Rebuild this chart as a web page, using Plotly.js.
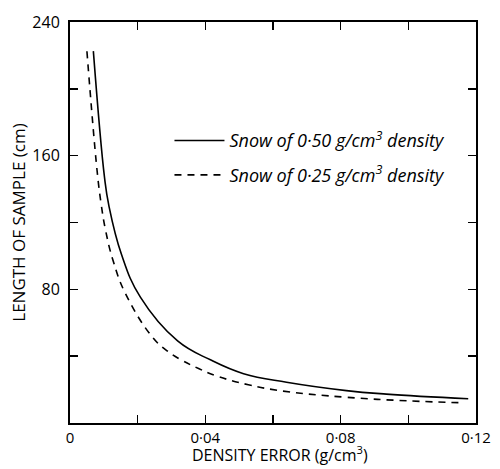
<!DOCTYPE html>
<html>
<head>
<meta charset="utf-8">
<script src="https://cdn.plot.ly/plotly-3.0.1.min.js"></script>
<style>html,body{margin:0;padding:0;background:#fff}#chart{width:500px;height:469px}</style>
</head>
<body>
<div id="chart"></div>
<script>
// Density error (g/cm3) and sample length (cm)
const solidDensityError = [0.0069, 0.0102, 0.0115, 0.0152, 0.0208, 0.0318, 0.0415, 0.0513, 0.0640, 0.0817, 0.0935, 0.1177];
const solidLength       = [222.6, 147.0, 130.0, 101.0, 75.3, 49.1, 37.8, 29.5, 24.4, 19.4, 17.3, 14.5];
const dashedDensityError = [0.0050, 0.0080, 0.0092, 0.0105, 0.0127, 0.0164, 0.0244, 0.0287, 0.0331, 0.0380, 0.0428, 0.0527, 0.0630, 0.0817, 0.0995, 0.1162];
const dashedLength       = [222.5, 151.1, 131.2, 115.5, 97.4, 77.4, 51.3, 43.2, 37.5, 32.6, 28.5, 22.9, 19.1, 15.4, 13.3, 12.1];
const seriesNames = ['Snow of 0·50 g/cm<sup>3</sup> density', 'Snow of 0·25 g/cm<sup>3</sup> density'];
const xTickVals = [0, 0.02, 0.04, 0.06, 0.08, 0.10, 0.12];
const xTickText = ['0', '', '0·04', '', '0·08', '', '0·12'];
const yTickVals = [40, 80, 120, 160, 200, 240];
const yTickText = ['', '80', '', '160', '', '240'];
const xTitle = 'DENSITY ERROR (g/cm<sup>3</sup>)';
const yTitle = 'LENGTH OF SAMPLE (cm)';

const font = '"Open Sans", Lato, sans-serif';
const traces = [
  {x: solidDensityError, y: solidLength, mode: 'lines', name: seriesNames[0], legendgroup: 'a',
   line: {color: '#000', width: 1.6, shape: 'spline', smoothing: 1.2}},
  {x: dashedDensityError, y: dashedLength, mode: 'lines', name: seriesNames[1], legendgroup: 'b',
   line: {color: '#000', width: 1.6, dash: '7px,6px', shape: 'spline', smoothing: 1.2}}
];
const axisCommon = {
  showline: true, linecolor: '#000', linewidth: 2, mirror: 'ticks',
  ticks: 'inside', ticklen: 8, tickwidth: 1.5, tickcolor: '#000',
  showgrid: false, zeroline: false, tickmode: 'array',
  tickfont: {family: font, size: 15, color: '#000'}
};
const layout = {
  width: 500, height: 469,
  margin: {l: 70, r: 24, t: 22, b: 46},
  paper_bgcolor: '#fff', plot_bgcolor: '#fff',
  font: {family: font, color: '#000'},
  xaxis: Object.assign({}, axisCommon, {
    range: [0, 0.12], tickvals: xTickVals, ticktext: xTickText, automargin: false
  }),
  yaxis: Object.assign({}, axisCommon, {
    range: [0, 240], tickvals: yTickVals, ticktext: yTickText, ticklabelstandoff: 5, automargin: false,
    tickfont: {family: font, size: 16, color: '#000'},
    title: {text: yTitle, font: {family: font, size: 17, color: '#000'}}
  }),
  annotations: [{
    text: xTitle, xref: 'paper', yref: 'paper', x: 0.517, y: -0.113,
    xanchor: 'center', yanchor: 'bottom', showarrow: false,
    font: {family: font, size: 16, color: '#000'}
  }],
  showlegend: true,
  legend: {
    x: 0.245, y: 0.75, xanchor: 'left', yanchor: 'top',
    bgcolor: 'rgba(0,0,0,0)', borderwidth: 0, itemwidth: 50,
    traceorder: 'grouped', tracegroupgap: 8,
    font: {family: font, size: 18, color: '#000', style: 'italic'}
  }
};
Plotly.newPlot('chart', traces, layout, {displayModeBar: false, staticPlot: true});
</script>
</body>
</html>
